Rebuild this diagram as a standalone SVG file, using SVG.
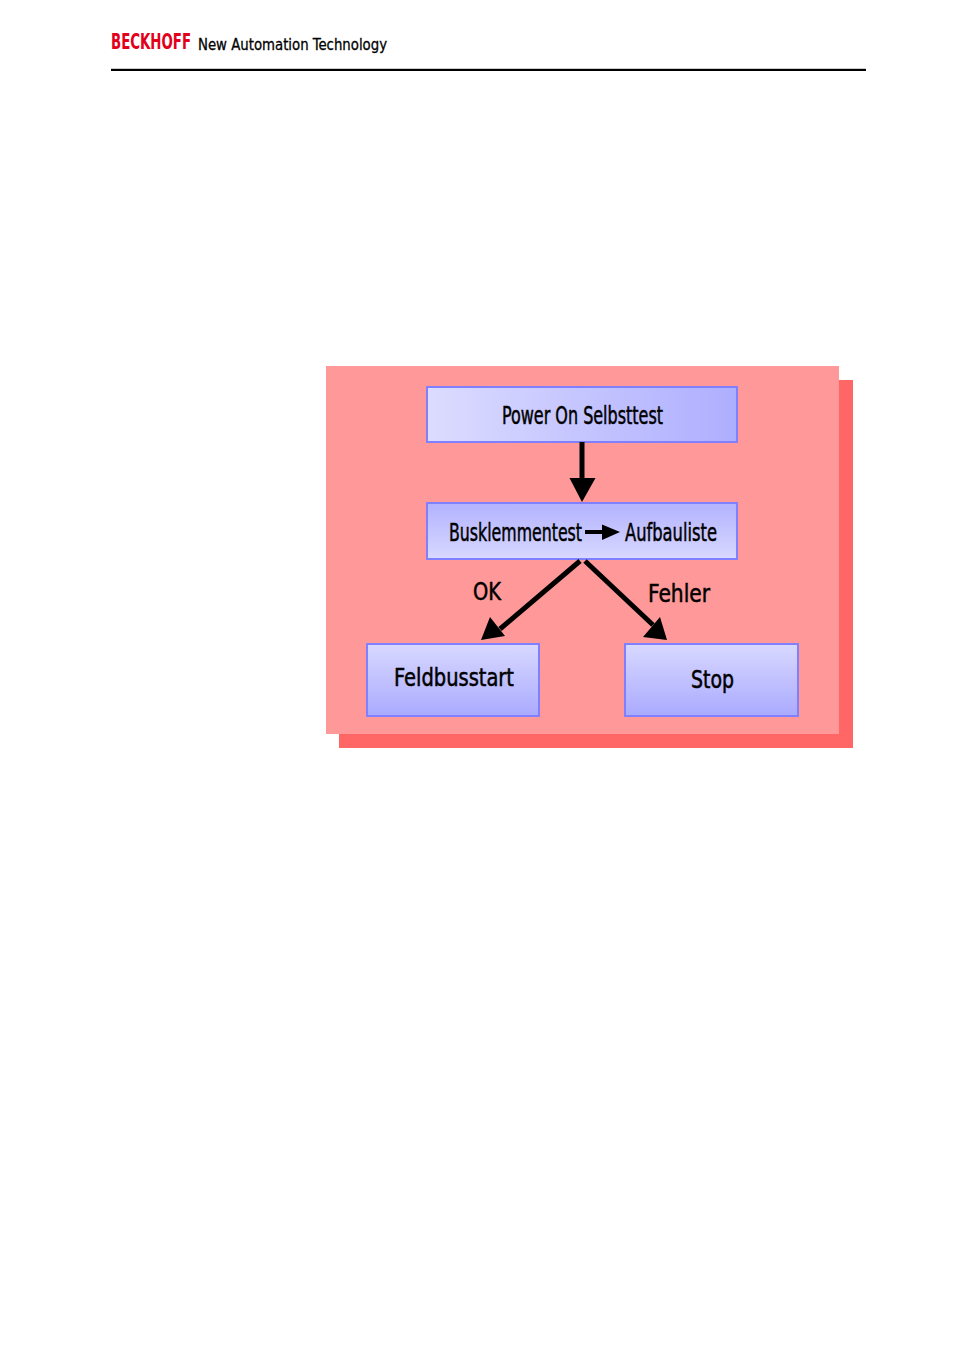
<svg xmlns="http://www.w3.org/2000/svg" width="954" height="1350" viewBox="0 0 954 1350">
<style>
.t{font-family:"Liberation Sans Narrow","DejaVu Sans Condensed","Liberation Sans",sans-serif;fill:#000;}
.m{stroke:#000;stroke-width:0.5;}
.box{stroke:#8080FF;stroke-width:2;}
.ln{stroke:#000;stroke-width:5;fill:none;}
</style>
<defs>
<linearGradient id="gH" x1="0" y1="0" x2="1" y2="0">
<stop offset="0" stop-color="#DCDCFF"/><stop offset="1" stop-color="#AEAEFF"/>
</linearGradient>
<linearGradient id="gUp" x1="0" y1="0" x2="0" y2="1">
<stop offset="0" stop-color="#B2B2FF"/><stop offset="1" stop-color="#D8D8FF"/>
</linearGradient>
<linearGradient id="gDn" x1="0" y1="0" x2="0" y2="1">
<stop offset="0" stop-color="#D8D8FF"/><stop offset="1" stop-color="#AAAAFF"/>
</linearGradient>
</defs>
<rect width="954" height="1350" fill="#FFFFFF"/>
<g id="header">
<text x="111" y="49" class="t" font-size="21" font-weight="bold" style="fill:#E2001A" textLength="80" lengthAdjust="spacingAndGlyphs">BECKHOFF</text>
<text x="198" y="50" class="t" font-size="16.5" stroke="#000" stroke-width="0.3" textLength="189" lengthAdjust="spacingAndGlyphs">New Automation Technology</text>
<rect x="111" y="68.8" width="755" height="2.2" fill="#000"/>
</g>
<g id="panel">
<rect x="339" y="380" width="514" height="368" fill="#FF6666"/>
<rect x="326" y="366" width="513" height="368" fill="#FF9999"/>
</g>
<g id="node-power">
<rect x="427" y="387" width="310" height="55" fill="url(#gH)" class="box"/>
<text x="502" y="424" class="t m" font-size="25" textLength="161" lengthAdjust="spacingAndGlyphs">Power On Selbsttest</text>
</g>
<g id="node-bus">
<rect x="427" y="503" width="310" height="56" fill="url(#gUp)" class="box"/>
<text x="449" y="541" class="t m" font-size="25" textLength="133" lengthAdjust="spacingAndGlyphs">Busklemmentest</text>
<line x1="585" y1="532" x2="604" y2="532" stroke="#000" stroke-width="4"/>
<polygon points="602,524.5 620,532 602,540" fill="#000"/>
<text x="625" y="541" class="t m" font-size="25" textLength="92" lengthAdjust="spacingAndGlyphs">Aufbauliste</text>
</g>
<g id="node-feld">
<rect x="367" y="644" width="172" height="72" fill="url(#gDn)" class="box"/>
<text x="394" y="686" class="t m" font-size="25" stroke-width="0.8" textLength="120" lengthAdjust="spacingAndGlyphs">Feldbusstart</text>
</g>
<g id="node-stop">
<rect x="625" y="644" width="173" height="72" fill="url(#gDn)" class="box"/>
<text x="691" y="688" class="t m" font-size="25" stroke-width="0.8" textLength="43" lengthAdjust="spacingAndGlyphs">Stop</text>
</g>
<g id="connectors">
<line x1="582" y1="442" x2="582" y2="480" class="ln"/>
<polygon points="569.5,478 595.5,478 582,502" fill="#000"/>
<line x1="580" y1="561" x2="500" y2="629" class="ln"/>
<polygon points="481,640 490,617 505,636" fill="#000"/>
<line x1="585" y1="561" x2="653" y2="625" class="ln"/>
<polygon points="667,640 643,637 660,617" fill="#000"/>
<text x="473" y="600" class="t m" font-size="25" stroke-width="0.8" textLength="28" lengthAdjust="spacingAndGlyphs">OK</text>
<text x="648" y="602" class="t m" font-size="25" stroke-width="0.8" textLength="62" lengthAdjust="spacingAndGlyphs">Fehler</text>
</g>
</svg>
